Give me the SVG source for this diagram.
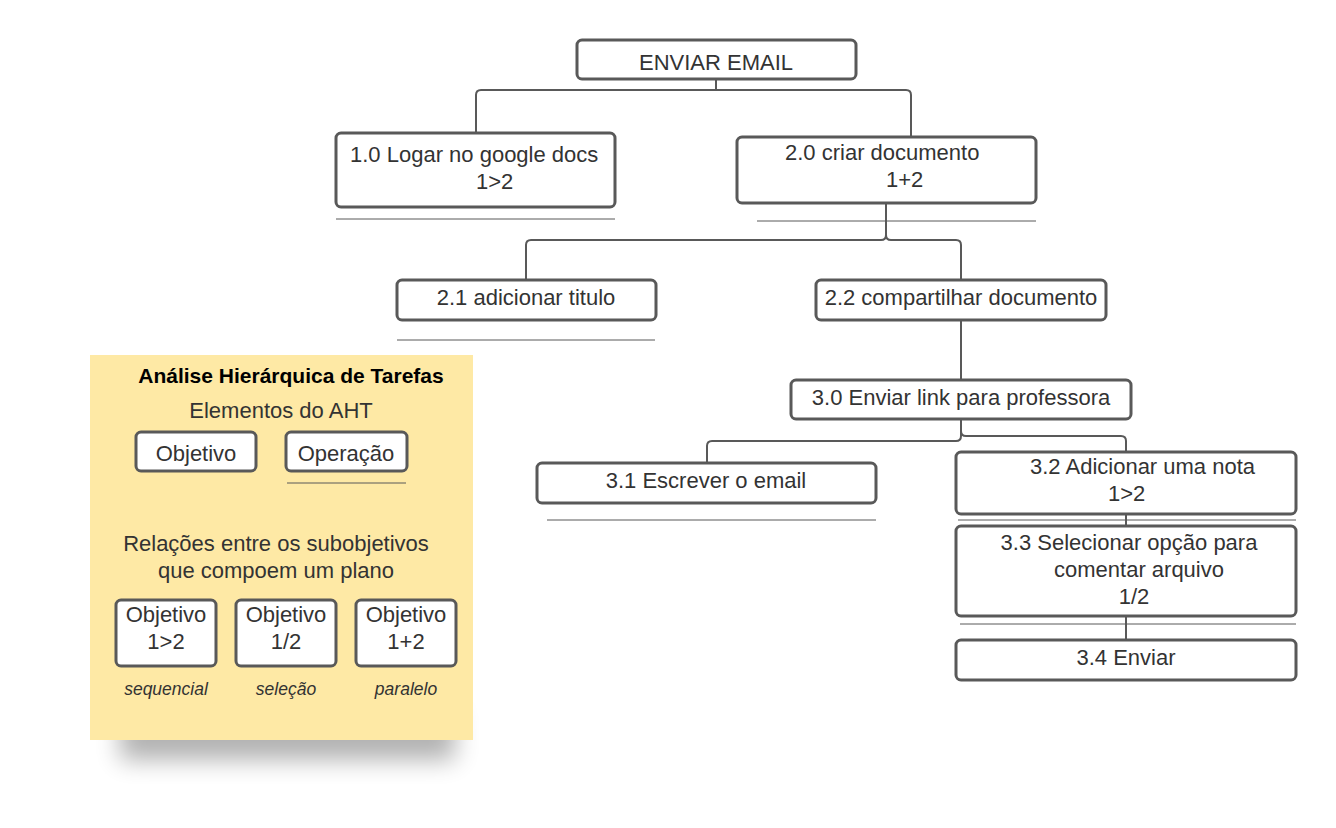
<svg xmlns="http://www.w3.org/2000/svg" width="1336" height="828" viewBox="0 0 1336 828">
<defs>
<style>
.box{fill:#fff;stroke:#595959;stroke-width:3}
.t{font-family:"Liberation Sans",Arial,sans-serif;font-size:22px;fill:#333}
.lg{font-family:"Liberation Sans",Arial,sans-serif;font-size:22px;fill:#333}
.it{font-family:"Liberation Sans",Arial,sans-serif;font-size:17.5px;font-style:italic;fill:#333}
.sep{stroke:#595959;stroke-width:1;fill:none}
.con{stroke:#595959;stroke-width:2;fill:none}
</style>
<filter id="blur" x="-30%" y="-80%" width="160%" height="260%"><feGaussianBlur stdDeviation="12"/></filter>
</defs>
<rect width="1336" height="828" fill="#fff"/>

<g id="legend">
<rect x="120" y="710" width="335" height="50" fill="#000" opacity="0.3" filter="url(#blur)"/>
<rect x="90" y="355" width="383" height="385" fill="#FEE9A5"/>
<text x="291" y="383" text-anchor="middle" style="font-family:'Liberation Sans',Arial,sans-serif;font-size:21px;font-weight:bold;fill:#000">Análise Hierárquica de Tarefas</text>
<text class="lg" x="281" y="418" text-anchor="middle">Elementos do AHT</text>
<rect class="box" x="136" y="432" width="120" height="39" rx="5"/>
<text class="lg" x="196" y="461" text-anchor="middle">Objetivo</text>
<rect class="box" x="286" y="432" width="121" height="39" rx="5"/>
<text class="lg" x="346" y="461" text-anchor="middle">Operação</text>
<line class="sep" x1="287" y1="483" x2="406" y2="483"/>
<text class="lg" x="276" y="551" text-anchor="middle">Relações entre os subobjetivos</text>
<text class="lg" x="276" y="578" text-anchor="middle">que compoem um plano</text>
<rect class="box" x="116" y="600" width="100" height="66" rx="5"/>
<text class="lg" x="166" y="622" text-anchor="middle">Objetivo</text>
<text class="lg" x="166" y="649" text-anchor="middle">1&gt;2</text>
<rect class="box" x="236" y="600" width="100" height="66" rx="5"/>
<text class="lg" x="286" y="622" text-anchor="middle">Objetivo</text>
<text class="lg" x="286" y="649" text-anchor="middle">1/2</text>
<rect class="box" x="356" y="600" width="100" height="66" rx="5"/>
<text class="lg" x="406" y="622" text-anchor="middle">Objetivo</text>
<text class="lg" x="406" y="649" text-anchor="middle">1+2</text>
<text class="it" x="166" y="695" text-anchor="middle">sequencial</text>
<text class="it" x="286" y="695" text-anchor="middle">seleção</text>
<text class="it" x="406" y="695" text-anchor="middle">paralelo</text>
</g>

<g id="connectors">
<path class="con" d="M716,79 V90 M476,133 V95 Q476,90 481,90 H906 Q911,90 911,95 V137"/>
<path class="con" d="M886,203 V235 Q886,240 881,240 H531 Q526,240 526,245 V280 M886,235 Q886,240 891,240 H956 Q961,240 961,245 V280"/>
<path class="con" d="M961,320 V380"/>
<path class="con" d="M961,419 V436 Q961,441 956,441 H712 Q707,441 707,446 V463 M961,426 V431 Q961,436 966,436 H1121 Q1126,436 1126,441 V452"/>
<path class="con" d="M1126,514 V526 M1126,616 V640"/>
</g>

<g id="separators">
<line class="sep" x1="336" y1="219" x2="615" y2="219"/>
<line class="sep" x1="757" y1="221" x2="1036" y2="221"/>
<line class="sep" x1="397" y1="340" x2="655" y2="340"/>
<line class="sep" x1="547" y1="520" x2="876" y2="520"/>
<line class="sep" x1="958" y1="520" x2="1296" y2="520"/>
<line class="sep" x1="960" y1="624" x2="1296" y2="624"/>
</g>

<g id="n-root">
<rect class="box" x="577" y="40" width="279" height="39" rx="5"/>
<text class="t" x="716" y="70" text-anchor="middle">ENVIAR EMAIL</text>
</g>
<g id="n-1-0">
<rect class="box" x="336" y="133" width="279" height="74" rx="5"/>
<text class="t" x="350" y="162">1.0 Logar no google docs</text>
<text class="t" x="476" y="189">1&gt;2</text>
</g>
<g id="n-2-0">
<rect class="box" x="737" y="137" width="299" height="66" rx="5"/>
<text class="t" x="785" y="160">2.0 criar documento</text>
<text class="t" x="886" y="187">1+2</text>
</g>
<g id="n-2-1">
<rect class="box" x="397" y="280" width="259" height="40" rx="5"/>
<text class="t" x="526" y="305" text-anchor="middle">2.1 adicionar titulo</text>
</g>
<g id="n-2-2">
<rect class="box" x="816" y="280" width="290" height="40" rx="5"/>
<text class="t" x="961" y="305" text-anchor="middle">2.2 compartilhar documento</text>
</g>
<g id="n-3-0">
<rect class="box" x="791" y="380" width="340" height="39" rx="5"/>
<text class="t" x="961" y="405" text-anchor="middle">3.0 Enviar link para professora</text>
</g>
<g id="n-3-1">
<rect class="box" x="537" y="463" width="339" height="40" rx="5"/>
<text class="t" x="706" y="488" text-anchor="middle">3.1 Escrever o email</text>
</g>
<g id="n-3-2">
<rect class="box" x="956" y="452" width="340" height="62" rx="5"/>
<text class="t" x="1030" y="474">3.2 Adicionar uma nota</text>
<text class="t" x="1108" y="501">1&gt;2</text>
</g>
<g id="n-3-3">
<rect class="box" x="956" y="526" width="340" height="90" rx="5"/>
<text class="t" x="1129" y="550" text-anchor="middle">3.3 Selecionar opção para</text>
<text class="t" x="1139" y="577" text-anchor="middle">comentar arquivo</text>
<text class="t" x="1134" y="604" text-anchor="middle">1/2</text>
</g>
<g id="n-3-4">
<rect class="box" x="956" y="640" width="340" height="40" rx="5"/>
<text class="t" x="1126" y="665" text-anchor="middle">3.4 Enviar</text>
</g>
</svg>
